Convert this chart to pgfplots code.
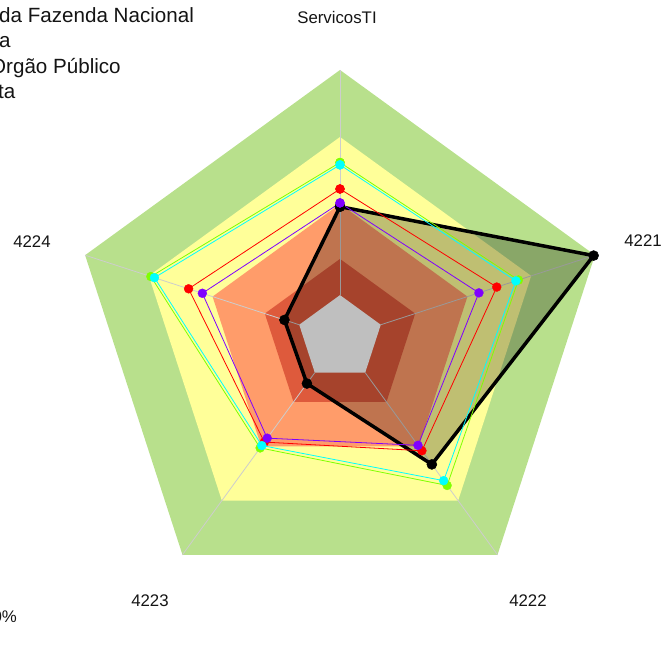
\documentclass[border=0pt]{standalone}
\usepackage{pgfplots}
\pgfplotsset{compat=1.18}
\usepackage{fontspec}
\setmainfont{Liberation Sans}
\definecolor{bgreen}{RGB}{184,224,140}
\definecolor{byellow}{RGB}{255,255,153}
\definecolor{borange}{RGB}{255,156,106}
\definecolor{bred}{RGB}{222,90,60}
\definecolor{spoke}{RGB}{205,205,205}
\definecolor{sred}{RGB}{255,0,0}
\definecolor{sgreen}{RGB}{128,255,0}
\definecolor{scyan}{RGB}{0,255,255}
\definecolor{spurple}{RGB}{128,0,255}
\definecolor{txt}{RGB}{20,20,20}
\begin{document}
\begin{tikzpicture}
\useasboundingbox (-340pt,-328pt) rectangle (323pt,338pt);
\clip (-340pt,-328pt) rectangle (323pt,338pt);
\begin{axis}[at={(0pt,0pt)}, anchor=center, width=536pt, height=536pt,
  scale only axis, xmin=-1, xmax=1, ymin=-1, ymax=1, hide axis, clip=false]
% background bands (angle, radius)
\addplot[data cs=polar, draw=none, fill=bgreen] coordinates {(90,1) (18,1) (-54,1) (-126,1) (162,1) (90,1)};
\addplot[data cs=polar, draw=none, fill=byellow] coordinates {(90,0.75) (18,0.75) (-54,0.75) (-126,0.75) (162,0.75) (90,0.75)};
\addplot[data cs=polar, draw=none, fill=borange] coordinates {(90,0.5) (18,0.5) (-54,0.5) (-126,0.5) (162,0.5) (90,0.5)};
\addplot[data cs=polar, draw=none, fill=bred] coordinates {(90,0.295) (18,0.295) (-54,0.295) (-126,0.295) (162,0.295) (90,0.295)};
\addplot[data cs=polar, draw=none, fill=white] coordinates {(90,0.16) (18,0.16) (-54,0.16) (-126,0.16) (162,0.16) (90,0.16)};
% spokes
\addplot[data cs=polar, draw=spoke, line width=0.8pt] coordinates {(90,0.16) (90,1)};
\addplot[data cs=polar, draw=spoke, line width=0.8pt] coordinates {(18,0.16) (18,1)};
\addplot[data cs=polar, draw=spoke, line width=0.8pt] coordinates {(-54,0.16) (-54,1)};
\addplot[data cs=polar, draw=spoke, line width=0.8pt] coordinates {(-126,0.16) (-126,1)};
\addplot[data cs=polar, draw=spoke, line width=0.8pt] coordinates {(162,0.16) (162,1)};
% black series
\addplot[data cs=polar, draw=black, line width=3.5pt, line join=round, fill=black, fill opacity=0.25,
  mark=*, mark size=5pt, mark options={fill=black, fill opacity=1, line width=0.5pt}]
  coordinates {(90,0.49) (18,0.995) (-54,0.583) (-126,0.21) (162,0.218) (90,0.49)};
% red
\addplot[data cs=polar, color=sred, line width=0.8pt, mark=*, mark size=4.5pt, mark options={line width=0.3pt}]
  coordinates {(90,0.556) (18,0.615) (-54,0.52) (-126,0.48) (162,0.594) (90,0.556)};
% green
\addplot[data cs=polar, color=sgreen, line width=0.8pt, mark=*, mark size=4.5pt, mark options={line width=0.3pt}]
  coordinates {(90,0.655) (18,0.70) (-54,0.68) (-126,0.507) (162,0.742) (90,0.655)};
% cyan
\addplot[data cs=polar, color=scyan, line width=0.8pt, mark=*, mark size=4.5pt, mark options={line width=0.3pt}]
  coordinates {(90,0.646) (18,0.69) (-54,0.658) (-126,0.496) (162,0.728) (90,0.646)};
% purple
\addplot[data cs=polar, color=spurple, line width=0.8pt, mark=*, mark size=4.5pt, mark options={line width=0.3pt}]
  coordinates {(90,0.504) (18,0.545) (-54,0.495) (-126,0.462) (162,0.54) (90,0.504)};
\end{axis}
% axis labels
\begin{scope}[every node/.style={text=txt, font=\fontsize{16.8}{20}\selectfont, inner sep=0pt}]
\node at (-3pt,320.5pt) {ServicosTI};
\node at (303pt,97pt) {4221};
\node at (188pt,-263pt) {4222};
\node at (-190pt,-263pt) {4223};
\node at (-308pt,96pt) {4224};
\node[anchor=base east] at (-323pt,-284pt) {0\%};
\end{scope}
% legend (cut off at left)
\begin{scope}[every node/.style={text=txt, font=\fontsize{20.6}{25}\selectfont, inner sep=0pt, anchor=base west}]
\node at (-341pt,315pt) {da Fazenda Nacional};
\node at (-341pt,290pt) {a};
\node at (-350pt,264pt) {Orgão Público};
\node at (-342pt,239pt) {ta};
\end{scope}
\end{tikzpicture}
\end{document}
